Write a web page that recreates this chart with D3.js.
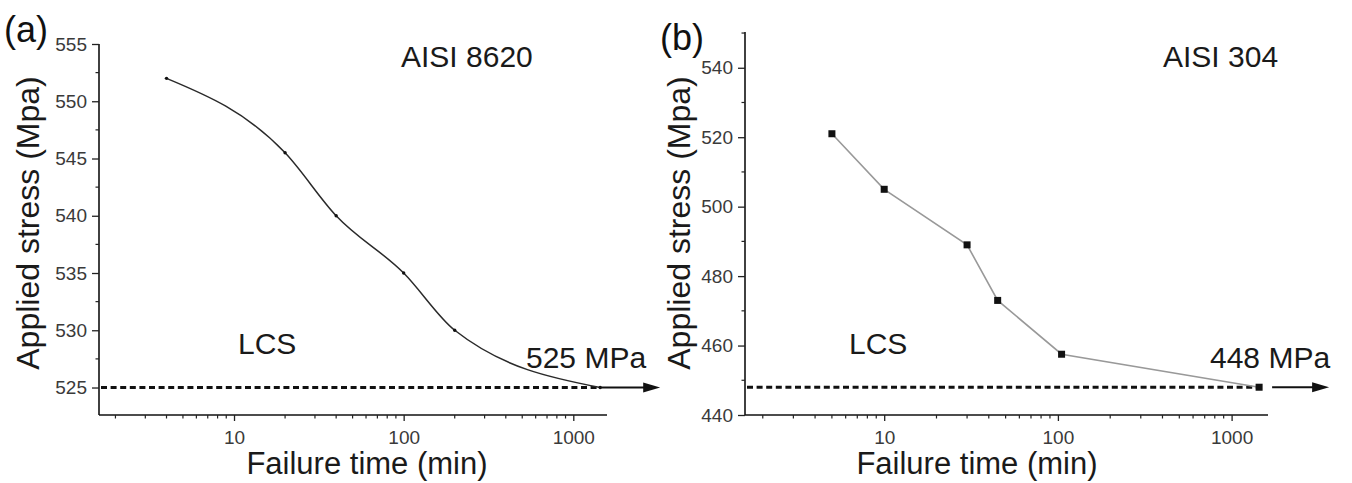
<!DOCTYPE html>
<html>
<head>
<meta charset="utf-8">
<script src="https://cdn.jsdelivr.net/npm/d3@7"></script>
<style>
body { margin:0; background:#fff; }
text { font-family: "Liberation Sans", Arial, sans-serif; }
</style>
</head>
<body>
<svg id="chart" width="1352" height="483"></svg>
<script>
// data
var timeA = [4, 20, 40, 100, 200, 1440];
var stressA = [552, 545.5, 540, 535, 530, 525];
var limitA = 525;

var timeB = [5, 10, 30, 45, 105, 1440];
var stressB = [521, 505, 489, 473, 457.5, 448];
var limitB = 448;

var xTickLabels = [10, 100, 1000];
var yTicksA = [525, 530, 535, 540, 545, 550, 555];
var yTicksB = [440, 460, 480, 500, 520, 540];

var svg = d3.select("#chart");

function drawPanel(p){
	var g = svg.append("g");
	var x = d3.scaleLog().domain(p.xDomain).range([p.left, p.right]);
	var y = d3.scaleLinear().domain(p.yDomain).range([p.bottom, p.top]);

	// minor ticks 2..9 on every decade
	var minorX = [];
	[1, 10, 100].forEach(function(dec){
		for (var k = 2; k <= 9; k++) minorX.push(dec*k);
	});
	minorX = minorX.filter(function(v){ return v > p.xDomain[0] && v < p.xDomain[1]; });

	// X axis
	var xAxis = d3.axisBottom(x).tickValues(xTickLabels).tickFormat(d3.format("d")).tickSize(6).tickSizeOuter(0).tickPadding(10);
	var gx = g.append("g").attr("transform", "translate(0," + p.bottom + ")").call(xAxis);
	gx.select(".domain").attr("stroke", "#111").attr("stroke-width", 1.6).attr("d", "M" + p.left + ",0H" + p.right);
	gx.selectAll(".tick line").attr("stroke", "#222").attr("stroke-width", 1.3);
	gx.selectAll("text").attr("font-size", 19).attr("fill", "#3a3a3a");
	gx.selectAll(".minor").data(minorX).enter().append("line")
		.attr("class", "minor")
		.attr("x1", function(d){ return x(d); }).attr("x2", function(d){ return x(d); })
		.attr("y1", 0).attr("y2", 3.5)
		.attr("stroke", "#222").attr("stroke-width", 1.2);

	// Y axis
	var yAxis = d3.axisLeft(y).tickValues(p.yTicks).tickSize(7).tickSizeOuter(0).tickPadding(5);
	var gy = g.append("g").attr("transform", "translate(" + p.left + ",0)").call(yAxis);
	gy.select(".domain").attr("stroke", "#111").attr("stroke-width", 1.6).attr("d", "M0," + p.top + "V" + p.bottom);
	gy.selectAll(".tick line").attr("stroke", "#222").attr("stroke-width", 1.3);
	gy.selectAll("text").attr("font-size", 19).attr("fill", "#3a3a3a");
	var minorY = p.yTicks.slice(0, -1).map(function(v, i){ return (v + p.yTicks[i+1]) / 2; });
	if (p.yTicks[p.yTicks.length-1] + p.yStep/2 < p.yDomain[1]) minorY.push(p.yTicks[p.yTicks.length-1] + p.yStep/2);
	gy.selectAll(".minor").data(minorY).enter().append("line")
		.attr("class", "minor")
		.attr("x1", -3.5).attr("x2", 0)
		.attr("y1", function(d){ return y(d); }).attr("y2", function(d){ return y(d); })
		.attr("stroke", "#222").attr("stroke-width", 1.2);

	// dashed limit line + arrow
	var xEnd = x(p.time[p.time.length-1]);
	g.append("line")
		.attr("x1", p.left + 2).attr("x2", xEnd)
		.attr("y1", y(p.limit)).attr("y2", y(p.limit))
		.attr("stroke", "#111").attr("stroke-width", 3).attr("stroke-dasharray", "6,3.6");
	var a0 = xEnd + p.arrowGap, a1 = xEnd + p.arrowGap + p.arrowLen;
	g.append("line")
		.attr("x1", a0).attr("x2", a1 - 14)
		.attr("y1", y(p.limit)).attr("y2", y(p.limit))
		.attr("stroke", "#111").attr("stroke-width", 2);
	g.append("path")
		.attr("d", "M" + (a1 - 17) + "," + (y(p.limit) - 5) + "L" + a1 + "," + y(p.limit) + "L" + (a1 - 17) + "," + (y(p.limit) + 5) + "Z")
		.attr("fill", "#111");

	// data line
	var pts = p.time.map(function(t, i){ return [t, p.stress[i]]; });
	var line = d3.line()
		.x(function(d){ return x(d[0]); })
		.y(function(d){ return y(d[1]); })
		.curve(p.curve);
	g.append("path").datum(pts)
		.attr("d", line)
		.attr("fill", "none")
		.attr("stroke", p.lineColor)
		.attr("stroke-width", p.lineWidth);

	if (p.square) {
		g.selectAll(".pt").data(pts).enter().append("rect")
			.attr("class", "pt")
			.attr("x", function(d){ return x(d[0]) - 3.5; })
			.attr("y", function(d){ return y(d[1]) - 3.5; })
			.attr("width", 7).attr("height", 7)
			.attr("fill", "#111");
	} else {
		g.selectAll(".pt").data(pts).enter().append("circle")
			.attr("class", "pt")
			.attr("cx", function(d){ return x(d[0]); })
			.attr("cy", function(d){ return y(d[1]); })
			.attr("r", 1.7)
			.attr("fill", "#111");
	}

	// labels
	g.append("text").attr("x", p.panelX).attr("y", p.panelY)
		.attr("font-size", 36).attr("fill", "#111").text(p.panel);
	g.append("text").attr("x", p.titleX).attr("y", 67)
		.attr("font-size", 30).attr("fill", "#1a1a1a").text(p.title);
	g.append("text").attr("x", p.lcsX).attr("y", 354)
		.attr("font-size", 30).attr("fill", "#1a1a1a").text("LCS");
	g.append("text").attr("x", p.mpaX).attr("y", 368)
		.attr("font-size", 30).attr("fill", "#1a1a1a").text(p.limit + " MPa");
	g.append("text").attr("x", p.xLabelX).attr("y", 474)
		.attr("text-anchor", "middle").attr("font-size", 31).attr("fill", "#1a1a1a")
		.text("Failure time (min)");
	g.append("text")
		.attr("transform", "translate(" + p.yLabelX + ",223) rotate(-90)")
		.attr("text-anchor", "middle").attr("font-size", 32).attr("fill", "#1a1a1a")
		.text("Applied stress (Mpa)");
}

// panel (a)
drawPanel({
	panel: "(a)", panelX: 4, panelY: 42,
	title: "AISI 8620", titleX: 401,
	time: timeA, stress: stressA, limit: limitA,
	xDomain: [1.6, 1580], yDomain: [522.6, 555],
	yTicks: yTicksA, yStep: 5,
	left: 99, right: 607, top: 44, bottom: 415,
	curve: d3.curveMonotoneX, lineColor: "#2a2a2a", lineWidth: 1.5, square: false,
	arrowGap: 0, arrowLen: 60,
	lcsX: 238, mpaX: 526, xLabelX: 367, yLabelX: 39
});

// panel (b)
drawPanel({
	panel: "(b)", panelX: 660, panelY: 50,
	title: "AISI 304", titleX: 1163,
	time: timeB, stress: stressB, limit: limitB,
	xDomain: [1.58, 1620], yDomain: [440, 550.3],
	yTicks: yTicksB, yStep: 20,
	left: 745, right: 1268, top: 32, bottom: 415,
	curve: d3.curveLinear, lineColor: "#999", lineWidth: 1.6, square: true,
	arrowGap: 13, arrowLen: 57,
	lcsX: 849, mpaX: 1210, xLabelX: 977, yLabelX: 690
});
</script>
</body>
</html>
